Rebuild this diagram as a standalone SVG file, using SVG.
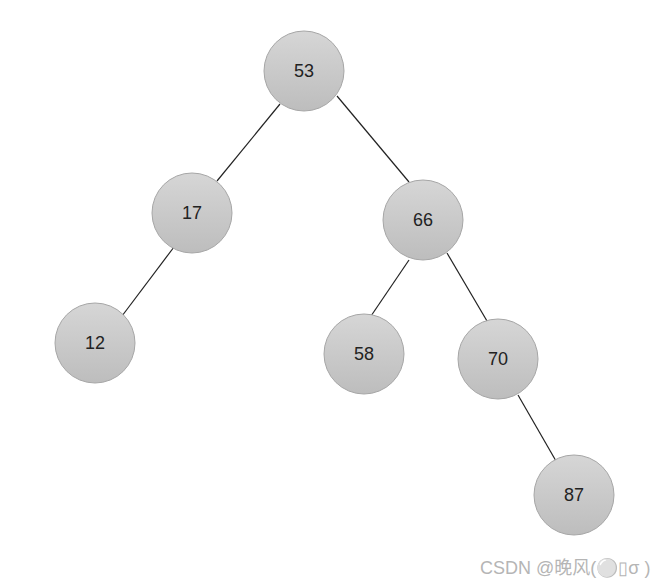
<svg xmlns="http://www.w3.org/2000/svg" width="663" height="587" viewBox="0 0 663 587">
<defs>
<linearGradient id="g" x1="0" y1="0" x2="0" y2="1">
<stop offset="0" stop-color="#d6d6d6"/>
<stop offset="1" stop-color="#bdbdbd"/>
</linearGradient>
<style>
.n circle{fill:url(#g);stroke:#a6a6a6;stroke-width:1}
.n text{font-family:"Liberation Sans",Arial,sans-serif;font-size:18px;fill:#222;text-anchor:middle;dominant-baseline:central}
.e line{stroke:#222;stroke-width:1.2}
.wm{font-family:"Liberation Sans","Noto Sans CJK SC",sans-serif;font-size:18px;fill:#b5b5b5}
</style>
</defs>
<rect width="663" height="587" fill="#fff"/>
<g id="edges" class="e">
<line x1="280" y1="104" x2="217" y2="181"/>
<line x1="337" y1="96" x2="409" y2="182"/>
<line x1="174" y1="247" x2="122" y2="316"/>
<line x1="409" y1="260" x2="371" y2="316"/>
<line x1="447" y1="253" x2="487" y2="321"/>
<line x1="518" y1="395" x2="556" y2="461"/>
</g>
<g id="n53" class="n"><circle cx="304" cy="71" r="40"/><text x="304" y="71">53</text></g>
<g id="n17" class="n"><circle cx="192" cy="213" r="40"/><text x="192" y="213">17</text></g>
<g id="n12" class="n"><circle cx="95" cy="343" r="40"/><text x="95" y="343">12</text></g>
<g id="n66" class="n"><circle cx="423" cy="220" r="40"/><text x="423" y="220">66</text></g>
<g id="n58" class="n"><circle cx="364" cy="354" r="40"/><text x="364" y="354">58</text></g>
<g id="n70" class="n"><circle cx="498" cy="359" r="40"/><text x="498" y="359">70</text></g>
<g id="n87" class="n"><circle cx="574" cy="495" r="40"/><text x="574" y="495">87</text></g>
<text class="wm" x="480" y="574">CSDN @晚风(⚪▯σ )</text>
</svg>
